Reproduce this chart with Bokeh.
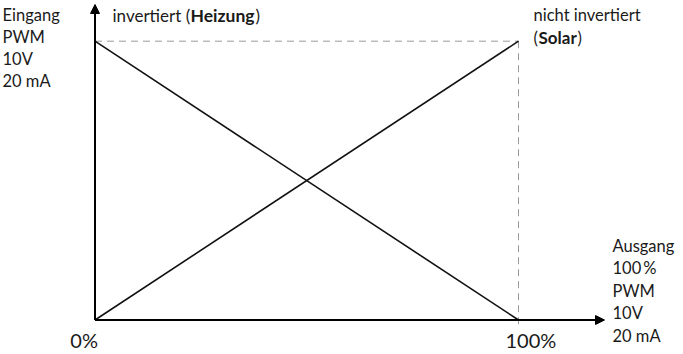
from bokeh.plotting import figure
from bokeh.models import Range1d, Arrow, NormalHead, Label
from bokeh.embed import file_html
from bokeh.resources import INLINE

# ---- data ----
output_pct = [0, 100]            # Ausgang (x)
inverted = [100, 0]              # invertiert (Heizung)
not_inverted = [0, 100]          # nicht invertiert (Solar)
tick_values = [0, 100]
tick_labels = ["0%", "100%"]
left_block = ["Eingang", "PWM", "10V", "20 mA"]
right_block = ["Ausgang", "100\u2009%", "PWM", "10V", "20 mA"]

# ---- layout (page pixels) ----
W, H = 683, 354
X0_PX, X100_PX = 94.5, 518.0
Y0_PX, Y100_PX = 319.5, 40.7
sx = (X100_PX - X0_PX) / 100.0
sy = (Y0_PX - Y100_PX) / 100.0

def dx(px):
    return (px - X0_PX) / sx

def dy(py):
    return (Y0_PX - py) / sy

p = figure(width=W, height=H, output_backend="svg", toolbar_location=None,
           x_range=Range1d(dx(0), dx(W)), y_range=Range1d(dy(H), dy(0)),
           min_border=0, outline_line_color=None)
p.axis.visible = False
p.grid.visible = False
p.background_fill_color = "white"
p.border_fill_color = "white"

FONT = "Lato"
TXT = "#1a1a1a"

# dashed guides
top = max(inverted)
right = max(output_pct)
p.line([min(output_pct), right], [top, top], line_color="#9a9a9a", line_width=1, line_dash="7 5")
p.line([right, right], [top, dy(328)], line_color="#9a9a9a", line_width=1, line_dash="7 5")

# data lines
p.line(output_pct, inverted, line_color="#111111", line_width=1.6)
p.line(output_pct, not_inverted, line_color="#111111", line_width=1.6)

# axes with arrows
p.add_layout(Arrow(x_start=0, y_start=0, x_end=0, y_end=dy(4),
                   line_width=2, line_color="black",
                   end=NormalHead(size=9, fill_color="black", line_color="black", line_width=1)))
p.add_layout(Arrow(x_start=0, y_start=0, x_end=dx(604), y_end=0,
                   line_width=2, line_color="black",
                   end=NormalHead(size=9, fill_color="black", line_color="black", line_width=1)))

def lab(text, x, y, size="16.5px", bold=False, align="left"):
    p.add_layout(Label(x=x, y=H - y, x_units="screen", y_units="screen", text=text,
                       text_font=FONT, text_font_size=size, text_color=TXT,
                       text_font_style="bold" if bold else "normal",
                       text_align=align, text_baseline="alphabetic"))

# left block
for i, t in enumerate(left_block):
    lab(t, 2, 14 + 22.3 * i)

# right block
for i, t in enumerate(right_block):
    lab(t, 612, 245 + 22.5 * i)

# top labels
lab("invertiert (", 112, 14.5, size="17px")
lab("Heizung", 190, 14.5, size="17.5px", bold=True)
lab(")", 255, 14.5, size="17px")
lab("nicht invertiert", 533, 14)
lab("(", 533, 37)
lab("Solar", 538, 37, size="17px", bold=True)
lab(")", 577, 37)

# tick labels
lab(tick_labels[0], X0_PX + sx * tick_values[0] + 3, 339, size="20px", align="right")
lab(tick_labels[1], X0_PX + sx * tick_values[1] - 13, 339, size="20px", align="left")

open("out.html", "w").write(file_html(p, INLINE))
